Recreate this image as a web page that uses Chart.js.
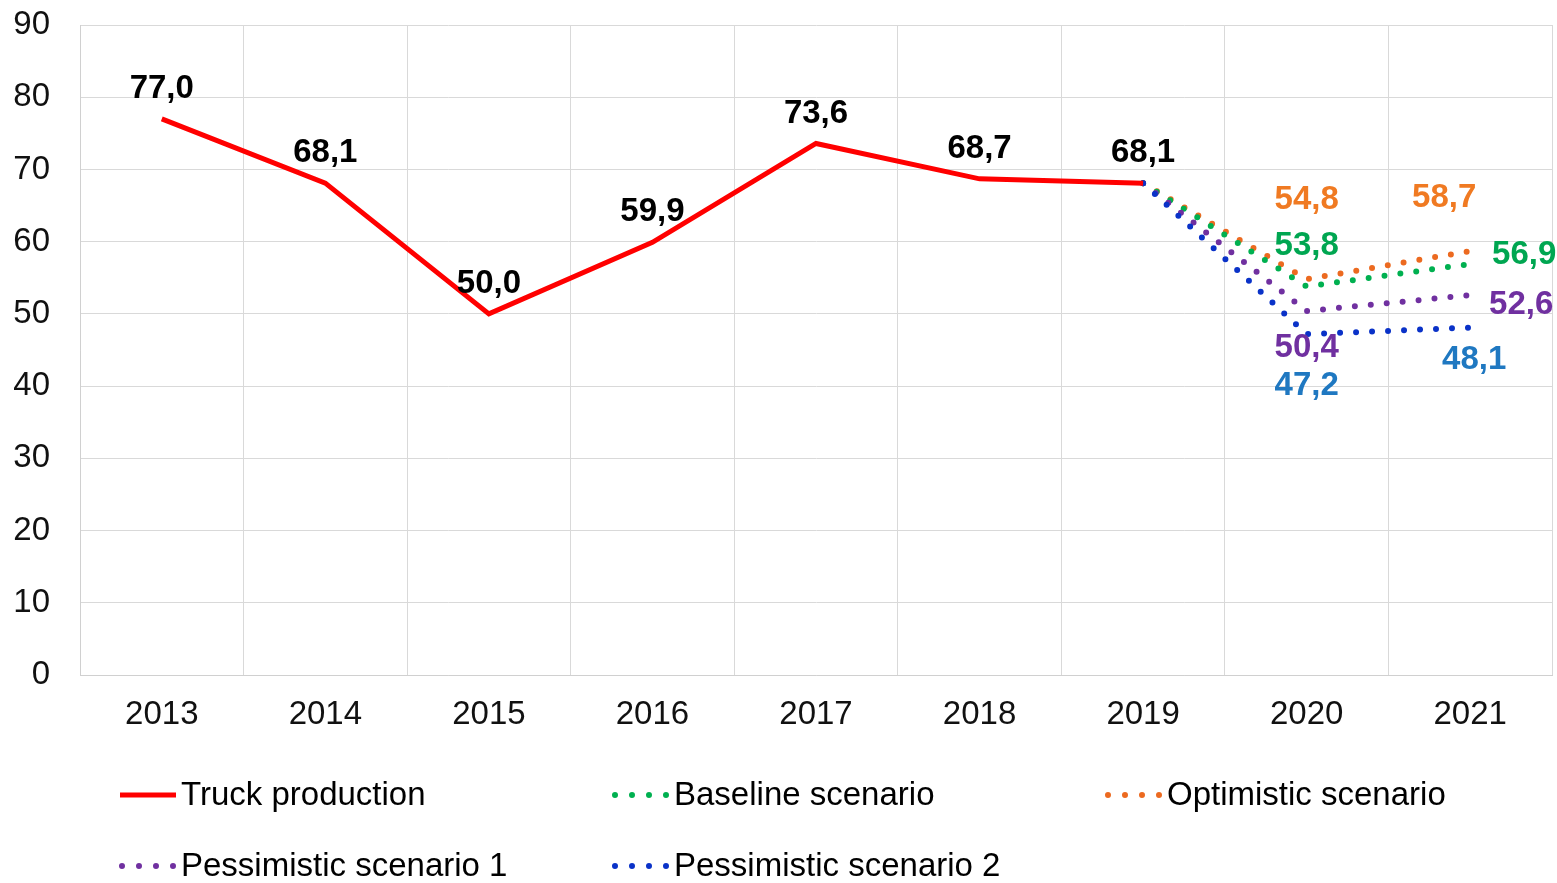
<!DOCTYPE html>
<html>
<head>
<meta charset="utf-8">
<title>Truck production scenarios</title>
<script src="https://cdn.jsdelivr.net/npm/chart.js@4.4.1/dist/chart.umd.min.js"></script>
<style>
  html, body { margin: 0; padding: 0; background: #fff; }
  #wrap { width: 1557px; height: 883px; }
</style>
</head>
<body>
<div id="wrap"><canvas id="truckChart" width="1557" height="883"></canvas></div>
<script>
// Data
const years = ['2013', '2014', '2015', '2016', '2017', '2018', '2019', '2020', '2021'];
const truckProduction = [77.0, 68.1, 50.0, 59.9, 73.6, 68.7, 68.1, null, null];
const baselineScenario = [null, null, null, null, null, null, 68.1, 53.8, 56.9];
const optimisticScenario = [null, null, null, null, null, null, 68.1, 54.8, 58.7];
const pessimisticScenario1 = [null, null, null, null, null, null, 68.1, 50.4, 52.6];
const pessimisticScenario2 = [null, null, null, null, null, null, 68.1, 47.2, 48.1];
const yMin = 0, yMax = 90, yStep = 10;

const FONT = '"Liberation Sans", Arial, Helvetica, sans-serif';
const FONT_SIZE = 33;
Chart.defaults.font.family = FONT;
Chart.defaults.color = '#000';

// label offsets (dx, dy in px from the point) per dataset
const labelOffsets = {
    truck: { all: [0, -30] },
    baseline: { 7: [0, -41], 8: [54, -9] },
    optimistic: { 7: [0, -79], 8: [-26, -53] },
    pess1: { 7: [0, 37], 8: [51, 10] },
    pess2: { 7: [0, 52], 8: [4, 32] }
};

const dotted = (color) => ({
    borderColor: color,
    backgroundColor: color,
    borderWidth: 6,
    borderDash: [0, 16],
    borderCapStyle: 'round',
    pointRadius: 0,
    tension: 0,
    fill: false
});

const datasets = [
    { key: 'truck', label: 'Truck production', data: truckProduction, borderColor: '#FF0000', backgroundColor: '#FF0000',
      borderWidth: 5, pointRadius: 0, tension: 0, fill: false, labelColor: '#000' },
    Object.assign({ key: 'pess2', label: 'Pessimistic scenario 2', data: pessimisticScenario2, labelColor: '#1F78C1' }, dotted('#0A32C8')),
    Object.assign({ key: 'pess1', label: 'Pessimistic scenario 1', data: pessimisticScenario1, labelColor: '#7030A0' }, dotted('#7030A0')),
    Object.assign({ key: 'baseline', label: 'Baseline scenario', data: baselineScenario, labelColor: '#00A651' }, dotted('#00B050')),
    Object.assign({ key: 'optimistic', label: 'Optimistic scenario', data: optimisticScenario, labelColor: '#F07A22' }, dotted('#EC6A20'))
];

// Draw value labels next to points
const valueLabels = {
    id: 'valueLabels',
    afterDatasetsDraw(chart) {
        const ctx = chart.ctx;
        ctx.save();
        ctx.font = 'bold ' + FONT_SIZE + 'px ' + FONT;
        ctx.textAlign = 'center';
        ctx.textBaseline = 'middle';
        chart.data.datasets.forEach((ds, i) => {
            const meta = chart.getDatasetMeta(i);
            const offs = labelOffsets[ds.key];
            ds.data.forEach((v, j) => {
                if (v === null) return;
                const off = offs.all || offs[j];
                if (!off) return;
                const pt = meta.data[j];
                ctx.fillStyle = ds.labelColor;
                ctx.fillText(v.toFixed(1).replace('.', ','), pt.x + off[0], pt.y + off[1]);
            });
        });
        ctx.restore();
    }
};

// Legend laid out in fixed columns like the original
const legendOrder = ['truck', 'baseline', 'optimistic', 'pess1', 'pess2'];
const legendSlots = [[120, 795], [613, 795], [1106, 795], [120, 866], [613, 866]];
const fixedLegend = {
    id: 'fixedLegend',
    afterDraw(chart) {
        const ctx = chart.ctx;
        ctx.save();
        ctx.font = FONT_SIZE + 'px ' + FONT;
        ctx.textAlign = 'left';
        ctx.textBaseline = 'middle';
        legendOrder.forEach((key, n) => {
            const ds = chart.data.datasets.find(d => d.key === key);
            const [x, y] = legendSlots[n];
            ctx.strokeStyle = ds.borderColor;
            ctx.lineWidth = ds.borderWidth;
            ctx.lineCap = ds.borderDash ? 'round' : 'butt';
            ctx.setLineDash(ds.borderDash ? [0, 17] : []);
            ctx.beginPath();
            if (ds.borderDash) {
                ctx.moveTo(x + 2, y);
                ctx.lineTo(x + 54, y);
            } else {
                ctx.moveTo(x, y);
                ctx.lineTo(x + 56, y);
            }
            ctx.stroke();
            ctx.setLineDash([]);
            ctx.fillStyle = '#000';
            ctx.fillText(ds.label, x + 61, y + 1);
        });
        ctx.restore();
    }
};

new Chart(document.getElementById('truckChart'), {
    type: 'line',
    data: { labels: years, datasets: datasets },
    options: {
        responsive: false,
        animation: false,
        layout: { padding: { top: 0, right: 5, bottom: 148, left: 0 } },
        plugins: {
            legend: { display: false },
            tooltip: { enabled: false }
        },
        scales: {
            x: {
                offset: true,
                grid: { offset: true, color: '#D9D9D9', lineWidth: 1, drawTicks: false },
                border: { color: '#D0D0D0', width: 1 },
                ticks: { font: { size: FONT_SIZE }, color: '#111', padding: 20, maxRotation: 0 },
                afterFit(scale) { scale.height = 60; }
            },
            y: {
                min: yMin,
                max: yMax,
                ticks: { stepSize: yStep, font: { size: FONT_SIZE }, color: '#111', padding: 30 },
                grid: { color: '#D9D9D9', lineWidth: 1, drawTicks: false },
                border: { color: '#D0D0D0', width: 1 },
                afterFit(scale) {
                    scale.width = 80;
                    scale.paddingTop = 25;
                    scale.paddingBottom = 0;
                }
            }
        }
    },
    plugins: [valueLabels, fixedLegend]
});
</script>
</body>
</html>
